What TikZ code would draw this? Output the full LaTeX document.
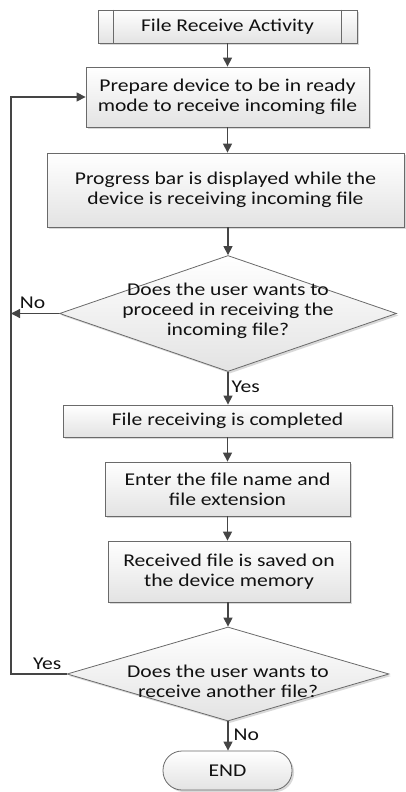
\documentclass[tikz,border=0pt]{standalone}
\usepackage{fontspec}
\setmainfont{Carlito}[FakeStretch=1.2]
\usetikzlibrary{arrows.meta,shapes.geometric,shadows}
\definecolor{edgec}{HTML}{6A6A6A}
\definecolor{arrc}{HTML}{454545}
\definecolor{txtc}{HTML}{111111}
\begin{document}
\begin{tikzpicture}[x=1pt,y=-1pt,
  txtfont/.style={font=\fontsize{18}{20}\selectfont, text=txtc},
  box/.style={draw=edgec, line width=0.8pt, top color=white, bottom color=gray!22,
    drop shadow={shadow xshift=2pt,shadow yshift=-2pt,fill=gray!50,opacity=0.6},
    inner sep=0pt, align=center, txtfont},
  dia/.style={box, shape=diamond},
  term/.style={box, rounded corners=19pt},
  arrow/.style={draw=arrc, line width=1.3pt, -{Triangle[length=9pt,width=9pt]}},
  lbl/.style={txtfont, inner sep=0pt}]
\useasboundingbox (0,0) rectangle (406,792);
\coordinate (lx) at (11,0);

\node[box, minimum width=259pt, minimum height=33pt] (start) at (227.5,26.5) {File Receive Activity};
\draw[edgec, line width=0.8pt] ([xshift=16pt]start.north west) -- ([xshift=16pt]start.south west);
\draw[edgec, line width=0.8pt] ([xshift=-16pt]start.north east) -- ([xshift=-16pt]start.south east);

\node[box, minimum width=283pt, minimum height=60pt] (prep) at (227.5,97) {Prepare device to be in ready\\mode to receive incoming file};
\node[box, minimum width=357pt, minimum height=74pt] (prog) at (225.5,190) {Progress bar is displayed while the\\device is receiving incoming file};
\node[dia, minimum width=337pt, minimum height=116pt] (d1) at (228,313.5) {};
\node[lbl, align=center] (d1t) at (228,311) {Does the user wants to\\proceed in receiving the\\incoming file?};
\node[box, minimum width=329pt, minimum height=32pt] (done) at (227.5,421) {File receiving is completed};
\node[box, minimum width=245pt, minimum height=54pt] (name) at (227.5,489) {Enter the file name and\\file extension};
\node[box, minimum width=242pt, minimum height=61pt] (save) at (229,571.5) {Received file is saved on\\the device memory};
\node[dia, minimum width=322pt, minimum height=94pt] (d2) at (228,674) {};
\node[lbl, align=center] (d2t) at (228,681) {Does the user wants to\\receive another file?};
\node[term, minimum width=129pt, minimum height=39pt] (end) at (227.5,770.5) {END};

\draw[arrow] (start.south) -- (prep.north);
\draw[arrow] (prep.south) -- (prep.south |- prog.north);
\draw[arrow] (d1.north |- prog.south) -- (d1.north);
\draw[arrow] (d1.south) -- (d1.south |- done.north) node[lbl, pos=0.45, right=3pt] (yes1) {Yes};
\draw[arrow] (done.south) -- (done.south |- name.north);
\draw[arrow] (name.south) -- (name.south |- save.north);
\draw[arrow] (d2.north |- save.south) -- (d2.north);
\draw[arrow] (d2.south) -- (d2.south |- end.north) node[lbl, pos=0.45, right=5pt] (no2) {No};
\draw[arrow] (d1.west) -- (d1.west -| lx) node[lbl, pos=0.55, above=4pt] (no1) {No};
\draw[arrow] (d2.west) -- (d2.west -| lx) node[lbl, pos=0.35, above=4pt] (yes2) {Yes} -- (prep.west -| lx) -- (prep.west);
\end{tikzpicture}
\end{document}
